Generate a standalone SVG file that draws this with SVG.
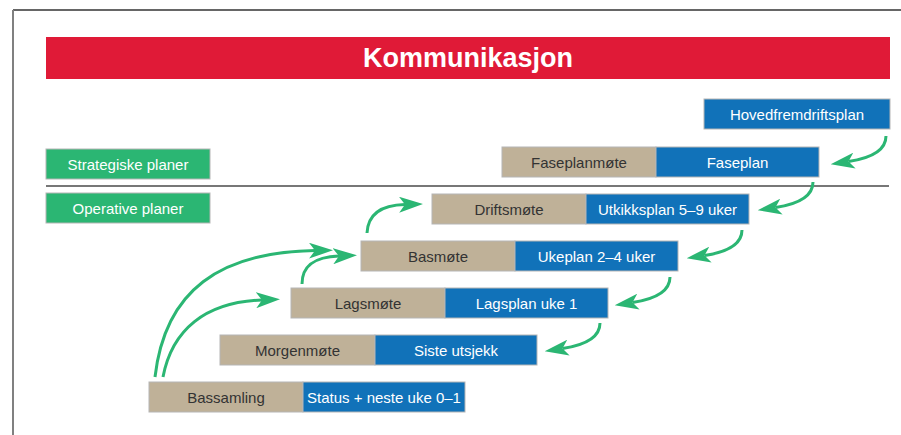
<svg xmlns="http://www.w3.org/2000/svg" width="901" height="435" viewBox="0 0 901 435">
<style>
.tan{fill:#bfb198;stroke:#b5b5b5;stroke-width:1}
.blue{fill:#1172b9;stroke:#b5b5b5;stroke-width:1}
.green{fill:#2bb673;stroke:#b5b5b5;stroke-width:1}
.t{font-family:"Liberation Sans",Arial,sans-serif;font-size:15px;text-anchor:middle}
.dk{fill:#333333}
.wh{fill:#ffffff}
.arr{fill:none;stroke:#2bb673;stroke-width:3;marker-end:url(#ah)}
</style>
<defs>
<marker id="ah" viewBox="0 0 24 16" refX="6" refY="8" markerWidth="24" markerHeight="16" markerUnits="userSpaceOnUse" orient="auto">
<path d="M0,0 L24,8 L0,16 L6,8 Z" fill="#2bb673"/>
</marker>
</defs>
<rect width="901" height="435" fill="#ffffff"/>
<g id="frame">
<line x1="13" y1="10" x2="901" y2="10" stroke="#333333" stroke-width="1.5"/>
<line x1="13" y1="10" x2="13" y2="435" stroke="#808080" stroke-width="2"/>
<line x1="46" y1="186" x2="889" y2="186" stroke="#777777" stroke-width="2"/>
</g>
<g id="title">
<rect x="46" y="37" width="844" height="42" fill="#e01a37"/>
<text x="468" y="67" font-family="'Liberation Sans',Arial,sans-serif" font-size="27" font-weight="bold" fill="#ffffff" text-anchor="middle">Kommunikasjon</text>
</g>
<g id="strategiske">
<rect class="green" x="46" y="149" width="164" height="30"/>
<text class="t wh" x="128" y="169.5">Strategiske planer</text>
</g>
<g id="operative">
<rect class="green" x="46" y="193" width="164" height="30"/>
<text class="t wh" x="128" y="213.5">Operative planer</text>
</g>
<g id="hovedfremdriftsplan">
<rect class="blue" x="704" y="99" width="186" height="30"/>
<text class="t wh" x="797" y="119.5">Hovedfremdriftsplan</text>
</g>
<g id="faseplan">
<rect class="tan" x="502" y="147" width="154" height="30"/>
<rect class="blue" x="656" y="147" width="163" height="30"/>
<text class="t dk" x="579" y="167.5">Faseplanmøte</text>
<text class="t wh" x="737.5" y="167.5">Faseplan</text>
</g>
<g id="drift">
<rect class="tan" x="432" y="194" width="154" height="30"/>
<rect class="blue" x="586" y="194" width="163" height="30"/>
<text class="t dk" x="509" y="214.5">Driftsmøte</text>
<text class="t wh" x="667.5" y="214.5">Utkikksplan 5–9 uker</text>
</g>
<g id="bas">
<rect class="tan" x="361" y="241" width="154" height="30"/>
<rect class="blue" x="515" y="241" width="163" height="30"/>
<text class="t dk" x="438" y="261.5">Basmøte</text>
<text class="t wh" x="596.5" y="261.5">Ukeplan 2–4 uker</text>
</g>
<g id="lag">
<rect class="tan" x="291" y="288" width="154" height="30"/>
<rect class="blue" x="445" y="288" width="163" height="30"/>
<text class="t dk" x="368" y="308.5">Lagsmøte</text>
<text class="t wh" x="526.5" y="308.5">Lagsplan uke 1</text>
</g>
<g id="morgen">
<rect class="tan" x="220" y="335" width="155" height="30"/>
<rect class="blue" x="375" y="335" width="162" height="30"/>
<text class="t dk" x="297.5" y="355.5">Morgenmøte</text>
<text class="t wh" x="456" y="355.5">Siste utsjekk</text>
</g>
<g id="bassamling">
<rect class="tan" x="149" y="382" width="154" height="30"/>
<rect class="blue" x="303" y="382" width="162" height="30"/>
<text class="t dk" x="226" y="402.5">Bassamling</text>
<text class="t wh" x="384" y="402.5">Status + neste uke 0–1</text>
</g>
<g id="connectors">
<path class="arr" d="M886,136 c0,14 -14,22 -37.5,25.5"/>
<path class="arr" d="M813,182 c0,14 -14,22 -37.5,25.5"/>
<path class="arr" d="M742,230 c0,14 -14,22 -37.5,25.5"/>
<path class="arr" d="M670,277 c0,14 -14,22 -37.5,25.5"/>
<path class="arr" d="M600,323 c0,14 -14,22 -37.5,25.5"/>
<path class="arr" d="M367,233 C368,214 382,205 405,204.5"/>
<path class="arr" d="M302,284 C302,265 315,257 339,256"/>
<path class="arr" d="M155,377 C165,290 220,252 315,250.5"/>
<path class="arr" d="M163,377 C172,330 205,302 262,300"/>
</g>
</svg>
